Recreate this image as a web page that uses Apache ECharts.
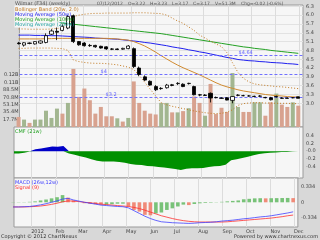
<!DOCTYPE html>
<html><head><meta charset="utf-8">
<script src="https://cdn.jsdelivr.net/npm/echarts@6/dist/echarts.min.js"></script>
<style>html,body{margin:0;padding:0;background:#d8d8d8}#c{width:320px;height:240px}</style>
</head><body><div id="c"></div><script>
// ---------- data ----------
const dates = ['2011-12-16','2011-12-23','2011-12-30','2012-01-06','2012-01-13','2012-01-20','2012-01-27','2012-02-03','2012-02-10','2012-02-17','2012-02-24','2012-03-02','2012-03-09','2012-03-16','2012-03-23','2012-03-30','2012-04-06','2012-04-13','2012-04-20','2012-04-27','2012-05-04','2012-05-11','2012-05-18','2012-05-25','2012-06-01','2012-06-08','2012-06-15','2012-06-22','2012-06-29','2012-07-06','2012-07-13','2012-07-20','2012-07-27','2012-08-03','2012-08-10','2012-08-17','2012-08-24','2012-08-31','2012-09-07','2012-09-14','2012-09-21','2012-09-28','2012-10-05','2012-10-12','2012-10-19','2012-10-26','2012-11-02','2012-11-09','2012-11-16','2012-11-23','2012-11-30','2012-12-07'];
const open  = [5.05,4.98,5.05,5.02,5.05,5.07,5.35,5.45,5.48,5.56,5.98,5.10,5.05,4.97,4.97,4.94,4.92,4.85,4.85,4.84,4.86,4.86,4.20,3.90,3.75,3.57,3.51,3.53,3.63,3.67,3.65,3.67,3.57,3.29,3.28,3.34,3.20,3.18,3.19,3.10,3.27,3.26,3.25,3.24,3.24,3.20,3.19,3.23,3.18,3.18,3.19,3.22];
const high  = [5.09,5.08,5.07,5.11,5.14,5.38,5.52,5.63,5.68,6.00,6.02,5.12,5.08,5.02,4.99,4.96,4.94,4.88,4.87,4.89,4.98,4.90,4.25,3.95,3.78,3.62,3.55,3.66,3.66,3.72,3.68,3.70,3.60,3.32,3.31,3.37,3.23,3.20,3.21,3.24,3.31,3.29,3.28,3.26,3.28,3.22,3.22,3.26,3.20,3.20,3.21,3.23];
const low   = [5.00,4.93,5.01,5.00,5.02,5.04,5.32,5.15,5.45,5.52,5.05,4.96,4.93,4.92,4.89,4.86,4.82,4.81,4.81,4.82,4.84,4.20,3.92,3.76,3.60,3.42,3.46,3.50,3.58,3.62,3.55,3.64,3.27,3.24,3.25,3.03,3.17,3.15,3.10,3.00,3.24,3.24,3.23,3.21,3.22,3.17,3.10,3.20,3.15,3.16,3.17,3.17];
const close = [5.03,5.06,5.04,5.10,5.12,5.30,5.46,5.42,5.62,5.95,5.10,4.99,4.96,4.96,4.92,4.88,4.85,4.84,4.83,4.87,4.95,4.25,3.98,3.79,3.62,3.46,3.50,3.62,3.61,3.68,3.57,3.68,3.29,3.28,3.27,3.18,3.19,3.17,3.11,3.23,3.28,3.26,3.25,3.23,3.25,3.19,3.12,3.22,3.17,3.17,3.19,3.17];
const volumeM = [24,17.7,9.8,17.7,17.7,39,21.7,44,32,57.6,139,72,92,64,32,48,25.6,25.6,20.8,13,21.7,109,57.6,39,32,30,57.6,57.6,35,35,38,45,73,57.6,27,103,31,46,36,129,48,36,36,59,59,27,59,80,53.5,48,59,51];
const volumeUp = [0,1,0,1,1,1,1,1,0,1,0,0,0,0,0,0,0,0,1,0,1,0,0,0,0,0,1,1,0,1,0,1,0,0,1,0,0,0,0,1,1,0,0,1,1,0,0,1,0,0,1,0];
const bbUpper = [5.53,5.53,5.52,5.52,5.52,5.52,5.53,5.55,5.57,5.63,5.95,6.00,6.03,6.05,6.06,6.06,6.07,6.07,6.07,6.07,6.07,6.08,6.08,6.08,6.07,6.06,6.05,6.00,5.90,5.80,5.72,5.60,5.48,5.32,5.22,5.12,5.02,4.93,4.72,4.38,4.05,3.85,3.73,3.66,3.63,3.61,3.59,3.57,3.56,3.54,3.52,3.50];
const bbMid   = [5.19,5.19,5.19,5.19,5.19,5.20,5.20,5.21,5.21,5.21,5.21,5.21,5.21,5.21,5.21,5.21,5.21,5.20,5.19,5.17,5.15,5.10,5.03,4.95,4.85,4.74,4.62,4.51,4.40,4.30,4.21,4.13,4.05,3.97,3.88,3.79,3.70,3.62,3.56,3.51,3.46,3.42,3.39,3.36,3.33,3.30,3.28,3.26,3.25,3.23,3.22,3.21];
const bbLower = [4.87,4.87,4.88,4.88,4.88,4.88,4.88,4.87,4.86,4.80,4.47,4.42,4.39,4.37,4.36,4.36,4.35,4.33,4.31,4.27,4.23,4.15,3.95,3.72,3.48,3.25,3.02,2.95,2.90,2.86,2.82,2.78,2.74,2.71,2.68,2.66,2.65,2.66,2.70,2.78,2.93,2.99,3.01,3.02,3.02,3.01,3.01,3.00,3.00,3.00,2.99,2.99];
const ma50  = [5.32,5.32,5.32,5.31,5.31,5.31,5.30,5.30,5.29,5.28,5.27,5.26,5.25,5.24,5.22,5.21,5.20,5.19,5.18,5.16,5.14,5.12,5.10,5.07,5.05,5.02,4.99,4.96,4.92,4.89,4.86,4.82,4.79,4.75,4.72,4.68,4.64,4.60,4.56,4.53,4.49,4.47,4.45,4.44,4.42,4.41,4.39,4.38,4.37,4.35,4.34,4.32];
const ma100 = [5.86,5.84,5.83,5.81,5.79,5.78,5.76,5.74,5.73,5.71,5.69,5.67,5.65,5.63,5.61,5.59,5.57,5.55,5.53,5.51,5.49,5.47,5.45,5.43,5.41,5.39,5.37,5.34,5.31,5.28,5.25,5.22,5.19,5.16,5.13,5.10,5.07,5.04,5.01,4.98,4.95,4.92,4.90,4.87,4.85,4.83,4.80,4.78,4.76,4.74,4.72,4.70];
const cmf = [-0.06,-0.06,-0.04,-0.01,0.05,0.07,0.09,0.12,0.11,0.13,-0.06,-0.09,-0.13,-0.16,-0.20,-0.24,-0.26,-0.26,-0.26,-0.27,-0.29,-0.32,-0.34,-0.35,-0.37,-0.38,-0.40,-0.41,-0.43,-0.45,-0.47,-0.44,-0.43,-0.43,-0.42,-0.40,-0.38,-0.37,-0.34,-0.23,-0.20,-0.17,-0.14,-0.10,-0.07,-0.05,-0.04,-0.03,-0.02,-0.02,-0.01,0.01];
const macd   = [-0.10,-0.10,-0.095,-0.09,-0.075,-0.055,-0.03,0.0,0.03,0.07,0.085,0.05,0.025,0.0,-0.02,-0.04,-0.06,-0.07,-0.08,-0.09,-0.095,-0.12,-0.18,-0.24,-0.30,-0.35,-0.39,-0.42,-0.43,-0.44,-0.445,-0.45,-0.455,-0.45,-0.44,-0.435,-0.43,-0.42,-0.405,-0.395,-0.385,-0.37,-0.355,-0.345,-0.33,-0.315,-0.305,-0.29,-0.27,-0.25,-0.23,-0.205];
const signal = [-0.10,-0.10,-0.10,-0.095,-0.09,-0.08,-0.065,-0.045,-0.02,0.01,0.03,0.025,0.015,0.0,-0.01,-0.025,-0.04,-0.05,-0.06,-0.07,-0.08,-0.09,-0.11,-0.135,-0.17,-0.21,-0.25,-0.29,-0.32,-0.35,-0.375,-0.395,-0.41,-0.42,-0.425,-0.425,-0.425,-0.425,-0.425,-0.42,-0.41,-0.40,-0.39,-0.38,-0.37,-0.36,-0.35,-0.34,-0.325,-0.31,-0.29,-0.275];
const hist   = [-0.005,0.005,0.005,0.01,0.02,0.04,0.06,0.085,0.11,0.155,0.10,0.04,0.0,-0.02,-0.03,-0.04,-0.05,-0.05,-0.04,-0.03,-0.03,-0.09,-0.165,-0.20,-0.27,-0.28,-0.24,-0.22,-0.165,-0.13,-0.09,-0.05,-0.06,-0.037,-0.022,-0.015,-0.01,-0.005,0.01,0.02,0.03,0.04,0.065,0.075,0.085,0.088,0.085,0.088,0.09,0.092,0.094,0.09];
const priceTicks = [3.0,3.3,3.6,3.9,4.2,4.5,4.8,5.1,5.4,5.7,6.0,6.3];
const volumeTicks = [17.7,35.4,53.1,70.8,88.5,106.2,123.9];
const cmfTicks = [-0.4,-0.2,0,0.2,0.4];
const macdTicks = [-0.334,0,0.334];
const monthStarts = ['2012-01-01','2012-02-01','2012-03-01','2012-04-01','2012-05-01','2012-06-01','2012-07-01','2012-08-01','2012-09-01','2012-10-01','2012-11-01','2012-12-01'];
const monthLabels = ['2012','Feb','Mar','Apr','May','Jun','Jul','Aug','Sep','Oct','Nov','Dec'];
const priceLevels = [4.64,4.0,3.2];
const priceLevelLabels = ['$4.64','$4','$3.2'];
const headerTexts = ['07/12/2012','O=3.22','H=3.23','L=3.17','C=3.17','V=51.3M','Chg=-0.02 (-0.6%)'];

// ---------- chart ----------
const FONT = 'DejaVu Sans';
const DAY = 86400000;
const t0 = Date.parse(dates[0]);
const monthPos = monthStarts.map(d => (Date.parse(d) - t0) / (7 * DAY) + 1);
const XMIN = 0.16, XMAX = 51.86;
const L = 14, R = 17;
const grids = [
  {left: L, right: R, top: 5, height: 122},
  {left: L, right: R, top: 127, height: 51},
  {left: L, right: R, top: 178, height: 49}
].map(g => Object.assign({show: true, backgroundColor: '#f6f6f6', borderColor: '#9a9a9a', borderWidth: 1}, g));

function xAx(gi, labels) {
  return {
    type: 'value', gridIndex: gi, min: XMIN, max: XMAX,
    axisLine: {show: false}, axisTick: {show: false, customValues: monthPos},
    splitLine: {show: true, lineStyle: {color: '#dcdcdc', width: 1}},
    axisLabel: labels ? {
      show: true, customValues: monthPos, align: 'left', margin: 2,
      fontSize: 5, fontFamily: FONT, color: '#444',
      formatter: v => { let k = 0, b = 1e9; monthPos.forEach((p, j) => { if (Math.abs(p - v) < b) { b = Math.abs(p - v); k = j; } }); return monthLabels[k]; }
    } : {show: false}
  };
}
const lab = {fontSize: 5, fontFamily: FONT, color: '#444'};
const headerX = [97, 128, 150, 172, 193, 215, 241];
const option = {
  backgroundColor: '#d8d8d8',
  animation: false,
  grid: grids,
  xAxis: [xAx(0, false), xAx(1, false), xAx(2, true)],
  yAxis: [
    {type: 'value', gridIndex: 0, position: 'right', min: 6.3 - (127 - 6.3) / 29.4, max: 6.3 + (6.3 - 5) / 29.4,
     axisLine: {show: false}, axisTick: {show: false, customValues: priceTicks},
     axisLabel: Object.assign({customValues: priceTicks, margin: 3, formatter: v => v.toFixed(1)}, lab),
     splitLine: {show: true, lineStyle: {color: '#e2e2e2'}}},
    {type: 'value', gridIndex: 0, position: 'left', min: 0, max: 127 * 17.7 / 7.4 - 5 * 17.7 / 7.4,
     axisLine: {show: false}, axisTick: {show: false, customValues: volumeTicks},
     axisLabel: Object.assign({customValues: volumeTicks, margin: 1, formatter: v => v >= 100 ? (v / 1000).toFixed(2) + 'B' : v.toFixed(1) + 'M'}, lab),
     splitLine: {show: false}},
    {type: 'value', gridIndex: 1, position: 'right', min: -(178 - 151.2) * 0.02516, max: (151.2 - 127) * 0.02516,
     axisLine: {show: false}, axisTick: {show: false, customValues: cmfTicks},
     axisLabel: Object.assign({customValues: cmfTicks, margin: 3, formatter: v => Math.abs(v) < 1e-9 ? '-0.0' : v.toFixed(1)}, lab),
     splitLine: {show: false}},
    {type: 'value', gridIndex: 2, position: 'right', min: -(227 - 202.3) * 0.02155, max: (202.3 - 178) * 0.02155,
     axisLine: {show: false}, axisTick: {show: false, customValues: macdTicks},
     axisLabel: Object.assign({customValues: macdTicks, margin: 3, formatter: v => Math.abs(v) < 1e-9 ? '0' : v.toFixed(3)}, lab),
     splitLine: {show: false}}
  ],
  series: [
    {type: 'bar', xAxisIndex: 0, yAxisIndex: 1, barWidth: 4, z: 1,
     data: volumeM.map((v, i) => ({value: [i, v], itemStyle: {color: volumeUp[i] ? '#a2b690' : '#d8a28f'}}))},
    {type: 'line', xAxisIndex: 0, yAxisIndex: 0, symbol: 'none', z: 3, data: ma100.map((v, i) => [i, v]), lineStyle: {color: '#22a022', width: 1}},
    {type: 'line', xAxisIndex: 0, yAxisIndex: 0, symbol: 'none', z: 3, data: ma50.map((v, i) => [i, v]), lineStyle: {color: '#2020ee', width: 1}},
    {type: 'line', xAxisIndex: 0, yAxisIndex: 0, symbol: 'none', z: 3, data: bbMid.map((v, i) => [i, v]), lineStyle: {color: '#d08a30', width: 1}},
    {type: 'line', xAxisIndex: 0, yAxisIndex: 0, symbol: 'none', z: 3, data: bbUpper.map((v, i) => [i, v]), lineStyle: {color: '#c07820', width: 1, type: [1, 2]}},
    {type: 'line', xAxisIndex: 0, yAxisIndex: 0, symbol: 'none', z: 3, data: bbLower.map((v, i) => [i, v]), lineStyle: {color: '#c07820', width: 1, type: [1, 2]}},
    {type: 'candlestick', xAxisIndex: 0, yAxisIndex: 0, z: 5, barWidth: 3.6,
     encode: {x: 0, y: [1, 2, 3, 4]},
     data: dates.map((d, i) => [i, open[i], close[i], low[i], high[i]]),
     itemStyle: {color: '#ffffff', color0: '#000000', borderColor: '#000000', borderColor0: '#000000', borderWidth: 0.8},
     markLine: {symbol: 'none', silent: true, animation: false,
       lineStyle: {color: '#7070ff', type: [3, 2], width: 1},
       label: {show: true, position: 'insideStartTop', fontSize: 5, fontFamily: FONT, color: '#6060ff'},
       data: priceLevels.map((p, k) => ({yAxis: p, label: {formatter: priceLevelLabels[k], distance: [[219, 81, 86][k], 0]}}))}},
    {type: 'line', xAxisIndex: 1, yAxisIndex: 2, symbol: 'none', z: 3, data: cmf.map((v, i) => [i, Math.max(v, 0)]), lineStyle: {width: 0}, areaStyle: {color: '#0000c8', opacity: 1}},
    {type: 'line', xAxisIndex: 1, yAxisIndex: 2, symbol: 'none', z: 3, data: cmf.map((v, i) => [i, Math.min(v, 0)]), lineStyle: {width: 0}, areaStyle: {color: '#009000', opacity: 1}},
    {type: 'bar', xAxisIndex: 2, yAxisIndex: 3, barWidth: 3.6, z: 2,
     data: hist.map((v, i) => ({value: [i, v], itemStyle: {color: (i === 0 || v >= hist[i - 1]) ? '#78c278' : '#f08a78'}}))},
    {type: 'line', xAxisIndex: 2, yAxisIndex: 3, symbol: 'none', z: 3, data: signal.map((v, i) => [i, v]), lineStyle: {color: '#ff3030', width: 0.8}},
    {type: 'line', xAxisIndex: 2, yAxisIndex: 3, symbol: 'none', z: 3, data: macd.map((v, i) => [i, v]), lineStyle: {color: '#4040ff', width: 0.8}}
  ],
  graphic: [
    {type: 'rect', left: 14.5, top: 5.5, z: 9, shape: {width: 46, height: 22}, style: {fill: '#f6f6f6'}},
    {type: 'text', left: 15, top: 1, z: 10, style: {text: 'Wilmar (F34) (weekly)', font: '5px ' + FONT, fill: '#555'}}
  ].concat(headerTexts.map((t, k) => ({type: 'text', left: headerX[k], top: 1.2, z: 10, style: {text: t, font: '4.5px ' + FONT, fill: '#555'}}))).concat([
    {type: 'text', left: 15, top: 7, z: 10, style: {text: 'Bollinger Band (20w, 2.0)', font: '5px ' + FONT, fill: '#c07820'}},
    {type: 'text', left: 15, top: 12, z: 10, style: {text: 'Moving Average (50w)', font: '5px ' + FONT, fill: '#2020ee'}},
    {type: 'text', left: 15, top: 17, z: 10, style: {text: 'Moving Average (100w)', font: '5px ' + FONT, fill: '#22a022'}},
    {type: 'text', left: 15, top: 22, z: 10, style: {text: 'Moving Average (200w)', font: '5px ' + FONT, fill: '#20a0a0'}},
    {type: 'text', left: 15, top: 129, z: 10, style: {text: 'CMF (21w)', font: '5px ' + FONT, fill: '#22a022'}},
    {type: 'text', left: 15, top: 180, z: 10, style: {text: 'MACD (26w,12w)', font: '5px ' + FONT, fill: '#4040ff'}},
    {type: 'text', left: 15, top: 185, z: 10, style: {text: 'Signal (9)', font: '5px ' + FONT, fill: '#ff3030'}},
    {type: 'text', left: 1, top: 234, z: 10, style: {text: 'Copyright \u00a9 2012 ChartNexus', font: '5px ' + FONT, fill: '#333'}},
    {type: 'text', right: 2, top: 234, z: 10, style: {text: 'Powered by www.chartnexus.com', font: '5px ' + FONT, fill: '#333'}}
  ])
};
const chart = echarts.init(document.getElementById('c'));
chart.setOption(option);
</script></body></html>
